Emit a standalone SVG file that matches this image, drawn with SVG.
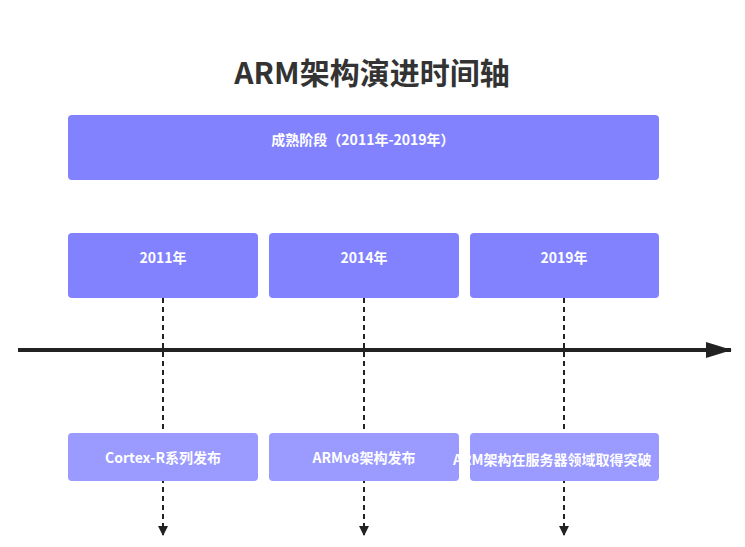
<svg xmlns="http://www.w3.org/2000/svg" width="745" height="547" viewBox="0 0 745 547">
<style>
.t{font-family:"Noto Sans CJK SC","Liberation Sans",sans-serif;fill:#fff;font-weight:bold;text-anchor:middle}
.b{fill:#8282ff}.l{fill:#9a9aff}
.d{stroke:#222;stroke-width:2;stroke-dasharray:5,4;fill:none}
</style>
<defs>
<marker id="a" markerWidth="10" markerHeight="10" refX="9" refY="5" orient="auto" markerUnits="userSpaceOnUse"><path d="M0,0L10,5L0,10z" fill="#222"/></marker>
<marker id="m" markerWidth="26" markerHeight="18" refX="25" refY="9" orient="auto" markerUnits="userSpaceOnUse"><path d="M0,1L26,9L0,17z" fill="#222"/></marker>
<clipPath id="c"><rect x="0" y="0" width="659" height="547"/></clipPath>
</defs>
<rect width="745" height="547" fill="#fff"/>
<text x="372" y="84" font-family="Noto Sans CJK SC,Liberation Sans,sans-serif" font-size="30" font-weight="bold" fill="#333" text-anchor="middle">ARM架构演进时间轴</text>
<g id="connectors">
<line x1="18" y1="350" x2="731" y2="350" stroke="#222" stroke-width="4" marker-end="url(#m)"/>
<line class="d" x1="163" y1="298" x2="163" y2="535" marker-end="url(#a)"/>
<line class="d" x1="364" y1="298" x2="364" y2="535" marker-end="url(#a)"/>
<line class="d" x1="564" y1="298" x2="564" y2="535" marker-end="url(#a)"/>
</g>
<g id="phase"><rect class="b" x="68" y="115" width="591" height="65" rx="4"/><text class="t" x="363" y="145" font-size="14">成熟阶段（2011年-2019年）</text></g>
<g id="y2011"><rect class="b" x="68" y="233" width="190" height="65" rx="4"/><text class="t" x="163" y="263" font-size="14">2011年</text></g>
<g id="y2014"><rect class="b" x="269" y="233" width="190" height="65" rx="4"/><text class="t" x="364" y="263" font-size="14">2014年</text></g>
<g id="y2019"><rect class="b" x="470" y="233" width="189" height="65" rx="4"/><text class="t" x="564" y="263" font-size="14">2019年</text></g>
<g id="e2011"><rect class="l" x="68" y="433" width="190" height="48" rx="4"/><text class="t" x="163" y="463" font-size="14">Cortex-R系列发布</text></g>
<g id="e2014"><rect class="l" x="269" y="433" width="190" height="48" rx="4"/><text class="t" x="364" y="463" font-size="14">ARMv8架构发布</text></g>
<g id="e2019"><rect class="l" x="470" y="433" width="189" height="48" rx="4"/><text class="t" x="453" y="465" font-size="14" style="text-anchor:start" clip-path="url(#c)">ARM架构在服务器领域取得突破</text></g>
</svg>
